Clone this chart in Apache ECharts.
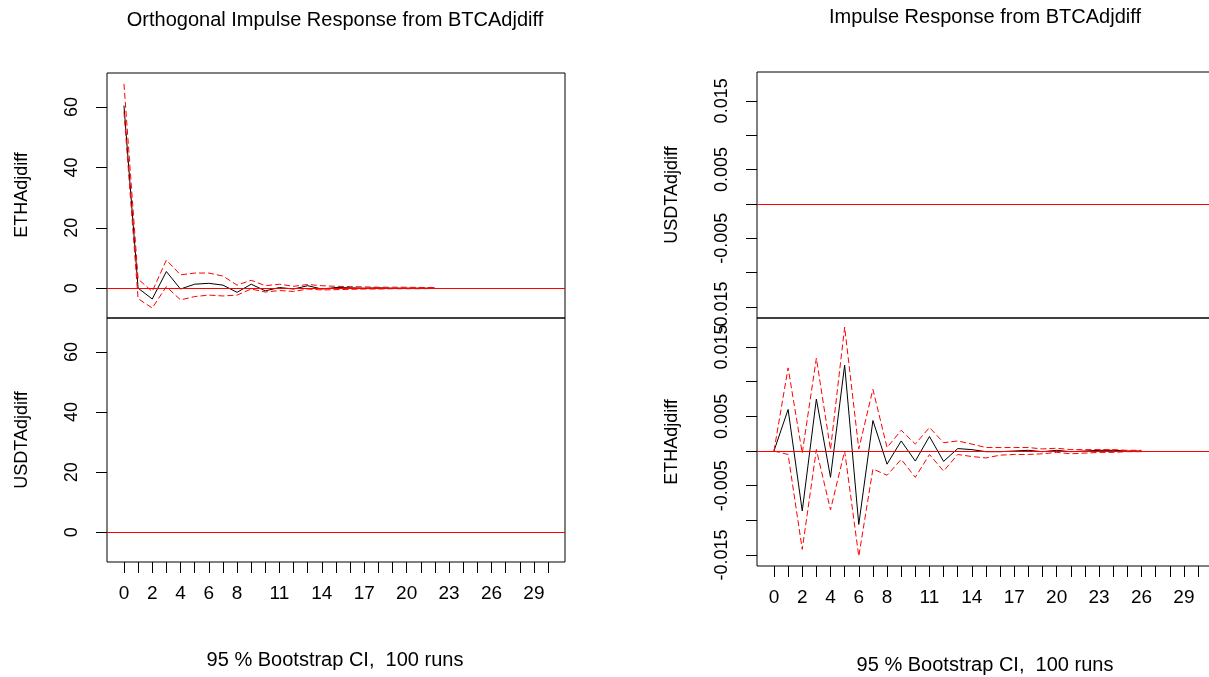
<!DOCTYPE html>
<html>
<head>
<meta charset="utf-8">
<script src="https://cdn.jsdelivr.net/npm/echarts@6/dist/echarts.min.js"></script>
<style>
  html, body { margin: 0; padding: 0; background: #ffffff; }
  #chart { width: 1209px; height: 677px; }
</style>
</head>
<body>
<div id="chart"></div>
<script>
// Forecast horizon ticks and the labels that are printed under them
const xTicks = [0,1,2,3,4,5,6,7,8,9,10,11,12,13,14,15,16,17,18,19,20,21,22,23,24,25,26,27,28,29,30];
const xLabels = [0,2,4,6,8,11,14,17,20,23,26,29];

// Y-axis ticks / labels
const orthTicks = [0,20,40,60];
const irfTicks = [-0.015,-0.01,-0.005,0,0.005,0.01,0.015];
const irfLabels = [-0.015,-0.005,0.005,0.015];

// Orthogonal impulse response of ETHAdjdiff to a BTCAdjdiff shock (steps 0..22)
const orthEth      = [60.5, 0.0, -3.6, 5.5, -0.3, 1.3, 1.6, 1.0, -1.4, 1.3, -0.9, 0.2, -0.3, 0.8, -0.3, 0.2, 0.1, 0.0, 0.1, 0.0, 0.0, 0.0, 0.0];
const orthEthUpper = [67.7, 3.0, -1.1, 9.3, 4.4, 5.0, 5.0, 4.0, 1.0, 2.6, 0.8, 1.3, 0.6, 1.2, 0.8, 0.6, 0.5, 0.4, 0.3, 0.3, 0.3, 0.2, 0.2];
const orthEthLower = [58.5, -3.5, -6.6, 0.5, -3.9, -2.8, -2.3, -2.6, -2.3, -0.3, -1.3, -0.8, -1.1, -0.3, -0.6, -0.5, -0.4, -0.3, -0.3, -0.2, -0.2, -0.2, -0.1];

// Impulse response of ETHAdjdiff to a BTCAdjdiff shock (steps 0..26)
const irfEth      = [0, 0.0060, -0.00865, 0.0075, -0.0038, 0.0124, -0.0106, 0.0044, -0.0019, 0.00145, -0.00145, 0.0021, -0.0015, 0.00035, 0.0002, -0.0001, -0.0001, 0.0, 0.0001, -0.0001, 0.0001, -0.0001, 0.0, 0.0001, 0.0001, 0.0, 0.0];
const irfEthUpper = [0, 0.0120, -0.0003, 0.0134, 0.0002, 0.0179, 0.0003, 0.0089, 0.0005, 0.0030, 0.0010, 0.0034, 0.0012, 0.00145, 0.0010, 0.0005, 0.0005, 0.0005, 0.0005, 0.0003, 0.0004, 0.0002, 0.0002, 0.0002, 0.0002, 0.0001, 0.0001];
const irfEthLower = [0, -0.0005, -0.0142, 0.0002, -0.0085, 0.0, -0.0152, -0.0026, -0.0035, -0.0012, -0.0038, -0.0005, -0.0029, -0.0005, -0.0008, -0.0010, -0.0006, -0.0005, -0.0005, -0.0004, -0.0002, -0.0004, -0.0003, -0.0002, -0.0002, -0.0001, -0.0001];

const FONT = 'Liberation Sans, Arial, sans-serif';
const toPairs = arr => arr.map((v, i) => [i, v]);

// The right-hand column runs a few pixels past the canvas edge, so layout clamping is disabled.
const grids = [
  { left: 107, top: 73,  width: 458, height: 245 },  // left, ETH
  { left: 107, top: 318, width: 458, height: 244 },  // left, USDT
  { left: 757, top: 72,  width: 458, height: 246 },  // right, USDT
  { left: 757, top: 318, width: 458, height: 248 }   // right, ETH
].map(g => Object.assign({ show: true, borderColor: '#000', borderWidth: 1, backgroundColor: 'transparent',
                           containLabel: false, outerBoundsMode: 'none' }, g));

function xAxisFor(idx, visible) {
  return {
    type: 'value', gridIndex: idx, min: -1.2, max: 31.2, show: visible, position: 'bottom',
    axisLine: { show: false, onZero: false },
    splitLine: { show: false },
    axisTick: { show: true, inside: false, length: 11, customValues: xTicks, lineStyle: { color: '#000', width: 1 } },
    axisLabel: { customValues: xLabels, color: '#000', fontFamily: FONT, fontSize: 19, margin: 22 }
  };
}

function yAxisFor(idx, min, max, ticks, labels, fmt) {
  return {
    type: 'value', gridIndex: idx, min: min, max: max, position: 'left',
    axisLine: { show: false, onZero: false },
    splitLine: { show: false },
    axisTick: { show: true, inside: false, length: 11, customValues: ticks, lineStyle: { color: '#000', width: 1 } },
    axisLabel: { customValues: labels, rotate: 90, color: '#000', fontFamily: FONT, fontSize: 18, margin: 26, formatter: fmt }
  };
}

const fmtOrth = v => String(v);
const fmtIrf = v => String(Number(Number(v).toFixed(3)));

const zeroLine = {
  silent: true, symbol: ['none', 'none'], label: { show: false },
  lineStyle: { color: '#ff0000', type: 'solid', width: 1 },
  data: [{ yAxis: 0 }]
};

function baseline(idx) {
  return { type: 'line', xAxisIndex: idx, yAxisIndex: idx, data: [], markLine: zeroLine, z: 1 };
}
function mainLine(idx, data) {
  return { type: 'line', xAxisIndex: idx, yAxisIndex: idx, data: toPairs(data), symbol: 'none',
           lineStyle: { color: '#000', width: 1 }, z: 2 };
}
function ciLine(idx, data) {
  return { type: 'line', xAxisIndex: idx, yAxisIndex: idx, data: toPairs(data), symbol: 'none',
           lineStyle: { color: '#ff0000', width: 1, type: [6, 3] }, z: 3 };
}

function txt(text, x, y, size, rot) {
  return { type: 'text', x: x, y: y, rotation: rot || 0,
           style: { text: text, fill: '#000', font: size + 'px ' + FONT, textAlign: 'center', textVerticalAlign: 'middle' } };
}

const option = {
  animation: false,
  backgroundColor: '#ffffff',
  grid: grids,
  xAxis: [xAxisFor(0, false), xAxisFor(1, true), xAxisFor(2, false), xAxisFor(3, true)],
  yAxis: [
    yAxisFor(0, -9.9, 71.3, orthTicks, orthTicks, fmtOrth),
    yAxisFor(1, -9.9, 71.3, orthTicks, orthTicks, fmtOrth),
    yAxisFor(2, -0.0166, 0.0192, irfTicks, irfLabels, fmtIrf),
    yAxisFor(3, -0.0166, 0.0192, irfTicks, irfLabels, fmtIrf)
  ],
  series: [
    baseline(0), mainLine(0, orthEth), ciLine(0, orthEthUpper), ciLine(0, orthEthLower),
    baseline(1),
    baseline(2),
    baseline(3), mainLine(3, irfEth), ciLine(3, irfEthUpper), ciLine(3, irfEthLower)
  ],
  graphic: [
    txt('Orthogonal Impulse Response from BTCAdjdiff', 335, 20, 20),
    txt('Impulse Response from BTCAdjdiff', 985, 17, 20),
    txt('95 % Bootstrap CI,  100 runs', 335, 660, 20),
    txt('95 % Bootstrap CI,  100 runs', 985, 665, 20),
    txt('ETHAdjdiff', 22, 195, 18, Math.PI / 2),
    txt('USDTAdjdiff', 22, 440, 18, Math.PI / 2),
    txt('USDTAdjdiff', 672, 195, 18, Math.PI / 2),
    txt('ETHAdjdiff', 672, 442, 18, Math.PI / 2)
  ]
};

const chart = echarts.init(document.getElementById('chart'), null, { renderer: 'canvas' });
chart.setOption(option);
</script>
</body>
</html>
